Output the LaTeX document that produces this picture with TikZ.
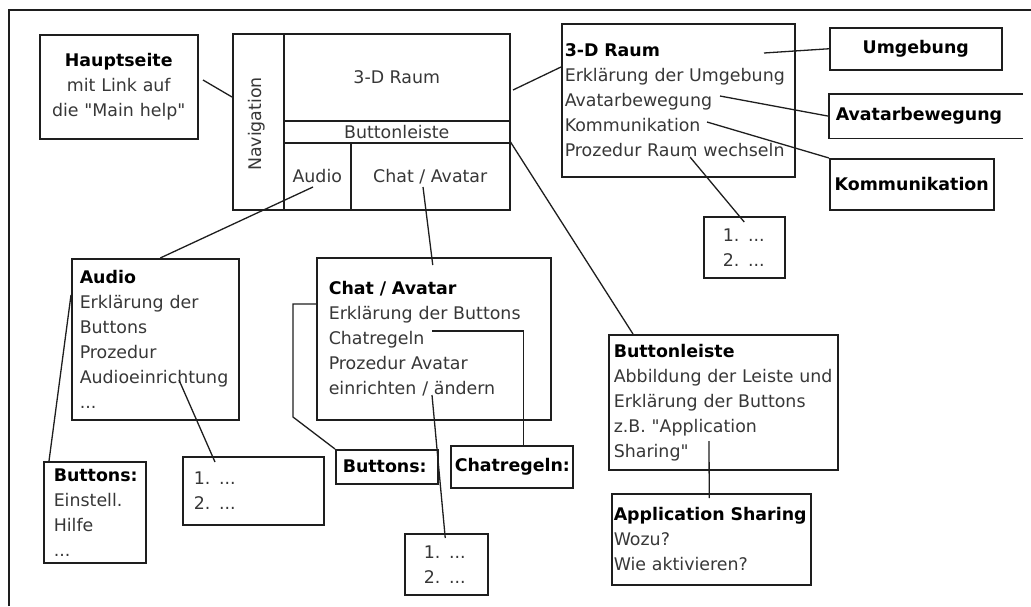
\documentclass[tikz,border=0pt]{standalone}
\usepackage{fontspec}
\setmainfont{DejaVu Sans}[Ligatures=TeXOff]
\usepackage{tikz}
\usetikzlibrary{calc, positioning}
\definecolor{txtgray}{RGB}{55,55,55}
\definecolor{linegray}{RGB}{30,30,30}
\newcommand{\boxhead}[1]{\textcolor{black}{\bfseries #1}}

\begin{document}
\begin{tikzpicture}[
  x=1pt, y=-1pt,
  box/.style={draw=linegray, line width=1.5pt, anchor=north west, align=left,
              inner ysep=0pt, text=txtgray, font=\fontsize{17.4}{25}\selectfont},
  cell/.style={draw=linegray, line width=1.5pt, anchor=north west, inner sep=0pt,
               text=txtgray, font=\fontsize{17.4}{25}\selectfont},
  link/.style={linegray, line width=1.3pt}
]
  \useasboundingbox (0,0) rectangle (1031,606);
  \draw[line width=1.5pt, linegray] (9,606) -- (9,10) -- (1031,10);

  \node[box, align=center, text width=150pt, inner xsep=4pt, minimum height=104pt] (haupt) at (39,34)
    {\boxhead{Hauptseite}\\mit Link auf\\die "Main help"};

  \node[cell, minimum width=51pt, minimum height=176pt] (nav) at (232,33) {};
  \node[rotate=90, text=txtgray, font=\fontsize{17.4}{25}\selectfont] (navtxt) at (257,124) {Navigation};
  \node[cell, minimum width=226pt, minimum height=87pt] (raum) at (283,33) {3-D Raum};
  \node[cell, minimum width=226pt, minimum height=22pt] (leiste) at (283,120) {Buttonleiste};
  \node[cell, minimum width=67pt, minimum height=67pt] (audio) at (283,142) {Audio};
  \node[cell, minimum width=159pt, minimum height=67pt] (chat) at (350,142) {Chat / Avatar};

  \node[box, text width=227pt, inner xsep=3pt, minimum height=153pt] (raumbox) at (561,23)
    {\boxhead{3-D Raum}\\Erklärung der Umgebung\\Avatarbewegung\\Kommunikation\\Prozedur Raum wechseln};
  \node[box, align=center, text width=164pt, inner xsep=4pt, minimum height=42pt] (umgebung) at (829,27)
    {\boxhead{Umgebung}};
  \node[box, draw=none, text width=180pt, inner xsep=6pt, minimum height=43pt] (avatarbew) at (829,94)
    {\boxhead{Avatarbewegung}};
  \draw[line width=1.5pt, linegray] (avatarbew.north east) -- (avatarbew.north west)
    -- (avatarbew.south west) -- (avatarbew.south east);
  \node[box, align=center, text width=156pt, inner xsep=4pt, minimum height=51pt] (kommunikation) at (829,158)
    {\boxhead{Kommunikation}};
  \node[box, text width=43pt, inner xsep=19pt, minimum height=61pt] (raumlist) at (703,216)
    {1. ...\\2. ...};

  \node[box, text width=151pt, inner xsep=8pt, minimum height=161pt] (audiobox) at (71,258)
    {\boxhead{Audio}\\Erklärung der\\Buttons\\Prozedur\\Audioeinrichtung\\...};
  \node[box, text width=82pt, inner xsep=10pt, minimum height=101pt] (buttonsA) at (43,461)
    {\boxhead{Buttons:}\\Einstell.\\Hilfe\\...};
  \node[box, text width=119pt, inner xsep=11pt, minimum height=68pt] (audiolist) at (182,456)
    {1. ...\\2. ...};

  \node[box, text width=210pt, inner xsep=12pt, minimum height=162pt] (chatbox) at (316,257)
    {\boxhead{Chat / Avatar}\\Erklärung der Buttons\\Chatregeln\\Prozedur Avatar\\einrichten / ändern};
  \node[box, text width=88pt, inner xsep=7pt, minimum height=34pt] (buttonsC) at (335,449)
    {\boxhead{Buttons:}};
  \node[box, align=center, text width=114pt, inner xsep=4pt, minimum height=42pt] (chatregeln) at (450,445)
    {\boxhead{Chatregeln:}};
  \node[box, text width=45pt, inner xsep=19pt, minimum height=61pt] (chatlist) at (404,533)
    {1. ...\\2. ...};

  \node[box, text width=219pt, inner xsep=5pt, minimum height=135pt] (leistebox) at (608,334)
    {\boxhead{Buttonleiste}\\Abbildung der Leiste und\\Erklärung der Buttons\\z.B. "Application\\Sharing"};
  \node[box, text width=195pt, inner xsep=2pt, minimum height=91pt] (appbox) at (611,493)
    {\boxhead{Application Sharing}\\Wozu?\\Wie aktivieren?};

  \coordinate (p1) at (203,80);
  \draw[link] (p1) -- ($(nav.north west)+(0,64)$);
  \coordinate (p2) at (513,90);
  \draw[link] (p2) -- ($(raumbox.north west)+(0,44)$);
  \coordinate (p3) at (764,53);
  \draw[link] (p3) -- (umgebung.west);
  \coordinate (p4) at (720,96);
  \draw[link] (p4) -- (avatarbew.west);
  \coordinate (p5) at (707,122);
  \draw[link] (p5) -- (kommunikation.north west);
  \coordinate (p6) at (690,157);
  \draw[link] (p6) -- ($(raumlist.north)+(0,6)$);
  \draw[link] (chat.north east) -- ($(leistebox.north west)+(25,0)$);

  \coordinate (p7) at (313,187);
  \draw[link] (p7) -- ($(audiobox.north)+(5,0)$);
  \coordinate (p8) at (423,187);
  \draw[link] (p8) -- ($(chatbox.north)+(-1,8)$);
  \draw[link] ($(audiobox.north west)+(0,37)$) -- ($(buttonsA.north west)+(6,0)$);
  \coordinate (p9) at (179,380);
  \draw[link] (p9) -- ($(audiolist.north west)+(33,6)$);

  \draw[link] ($(chatbox.north west)+(0,47)$) -- ++(-23,0) -- ++(0,113) -- (buttonsC.north west);
  \coordinate (p10) at (432,331);
  \draw[link] (p10) -| ($(chatregeln.north)+(12,0)$);
  \coordinate (p11) at (432,395);
  \draw[link] (p11) -- ($(chatlist.north)+(-1,5)$);
  \coordinate (p12) at (709,441);
  \draw[link] (p12) -- ($(appbox.north)+(-2,5)$);
\end{tikzpicture}
\end{document}
